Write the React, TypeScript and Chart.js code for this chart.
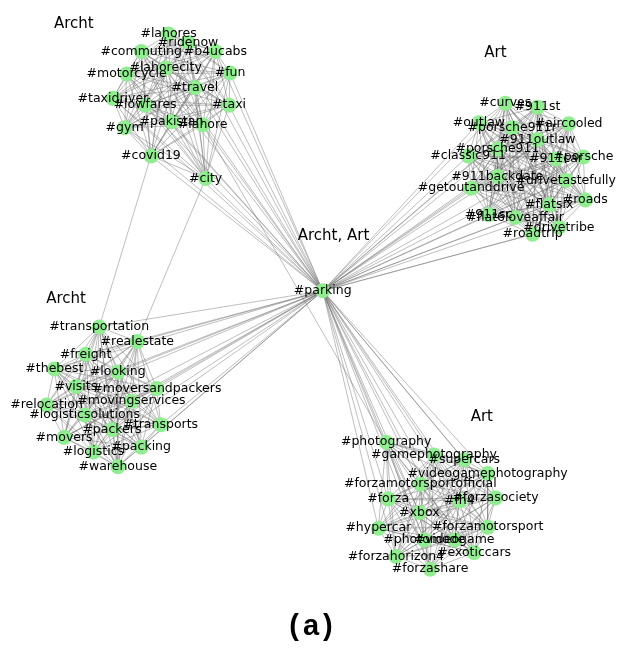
import { useEffect, useRef } from "react";
import { Chart, registerables } from "chart.js";

Chart.register(...registerables);

// Layout units: x grows to the right, y grows downward (0..624 x 0..650).
const archtTopTags = ["#lahores", "#ridenow", "#commuting", "#b4ucabs", "#lahorecity", "#motorcycle", "#fun", "#travel", "#taxidriver", "#lowfares", "#taxi", "#pakistan", "#lahore", "#gym", "#covid19", "#city"];
const archtTopX = [165, 185, 137, 213, 162, 122, 228, 192, 108, 141, 227, 168, 200, 120, 147, 203];
const archtTopY = [27, 36, 45, 45, 62, 68, 67, 82, 93, 100, 100, 117, 120, 123, 152, 175];

const artTopTags = ["#curves", "#911st", "#outlaw", "#porsche911r", "#aircooled", "#911outlaw", "#classic911", "#porsche911", "#911car", "#porsche", "#911backdate", "#drivetastefully", "#getoutanddrive", "#roads", "#flatsix", "#911sc", "#flat6loveaffair", "#drivetribe", "#roadtrip"];
const artTopX = [510, 543, 483, 517, 575, 543, 472, 502, 562, 590, 502, 572, 475, 592, 555, 493, 520, 565, 538];
const artTopY = [98, 102, 118, 123, 119, 135, 152, 145, 155, 153, 173, 177, 185, 197, 202, 212, 215, 225, 232];

const archtBottomTags = ["#transportation", "#realestate", "#freight", "#thebest", "#looking", "#visits", "#moversandpackers", "#movingservices", "#relocation", "#logisticsolutions", "#packers", "#transports", "#movers", "#packing", "#logistics", "#warehouse"];
const archtBottomX = [94, 133, 80, 48, 113, 70, 153, 127, 40, 79, 107, 157, 58, 137, 88, 113];
const archtBottomY = [327, 342, 355, 370, 373, 388, 390, 403, 407, 417, 432, 427, 440, 450, 455, 470];

const artBottomTags = ["#photography", "#gamephotography", "#supercars", "#videogamephotography", "#forzamotorsportofficial", "#forza", "#fh4", "#forzasociety", "#xbox", "#hypercar", "#forzamotorsport", "#photomode", "#videogame", "#forzahorizon4", "#exoticcars", "#forzashare"];
const artBottomX = [388, 437, 468, 492, 423, 390, 463, 500, 422, 380, 492, 427, 458, 398, 478, 433];
const artBottomY = [445, 458, 463, 477, 488, 503, 505, 502, 517, 533, 532, 545, 545, 562, 558, 575];

const hubTag = "#parking";
const hubX = 323;
const hubY = 290;

// Edges that run between communities besides the hub.
const crossEdges: [string, string][] = [
  ["#covid19", "#transportation"],
  ["#city", "#realestate"],
  ["#lahore", "#photography"],
];

const groupTitles = ["Archt", "Art", "Archt, Art", "Archt", "Art"];
const groupTitleX = [68, 500, 334, 60, 486];
const groupTitleY = [17, 47, 234, 299, 419];

const caption = "(a)";

type Group = { tags: string[]; xs: number[]; ys: number[] };
const groups: Group[] = [
  { tags: archtTopTags, xs: archtTopX, ys: archtTopY },
  { tags: artTopTags, xs: artTopX, ys: artTopY },
  { tags: archtBottomTags, xs: archtBottomX, ys: archtBottomY },
  { tags: artBottomTags, xs: artBottomX, ys: artBottomY },
];

export default function App() {
  const canvasRef = useRef<HTMLCanvasElement | null>(null);

  useEffect(() => {
    const canvas = canvasRef.current;
    if (!canvas) return;

    const nodeTags: string[] = [hubTag];
    const nodePts: { x: number; y: number }[] = [{ x: hubX, y: hubY }];
    groups.forEach((g) => {
      g.tags.forEach((t, i) => {
        nodeTags.push(t);
        nodePts.push({ x: g.xs[i], y: g.ys[i] });
      });
    });
    const idx = (t: string) => nodeTags.indexOf(t);

    const edgePairs: [number, number][] = [];
    let offset = 1;
    groups.forEach((g) => {
      const n = g.tags.length;
      for (let i = 0; i < n; i++) {
        edgePairs.push([0, offset + i]);
        for (let j = i + 1; j < n; j++) edgePairs.push([offset + i, offset + j]);
      }
      offset += n;
    });
    crossEdges.forEach(([a, b]) => edgePairs.push([idx(a), idx(b)]));

    const edgeData: { x: number; y: number }[] = [];
    edgePairs.forEach(([a, b]) => {
      edgeData.push(nodePts[a], nodePts[b], { x: NaN, y: NaN });
    });

    const labelPlugin = {
      id: "nodeLabels",
      afterDatasetsDraw(chart: any) {
        const ctx = chart.ctx as CanvasRenderingContext2D;
        const meta = chart.getDatasetMeta(1);
        const xs = chart.scales.x;
        const ys = chart.scales.y;
        ctx.save();
        ctx.textAlign = "center";
        ctx.textBaseline = "middle";
        ctx.fillStyle = "#000000";
        ctx.font = "12.5px 'DejaVu Sans'";
        meta.data.forEach((el: any, i: number) => {
          ctx.fillText(nodeTags[i], el.x, el.y);
        });
        ctx.font = "15px 'DejaVu Sans'";
        groupTitles.forEach((t, i) => {
          ctx.fillText(t, xs.getPixelForValue(groupTitleX[i]), ys.getPixelForValue(groupTitleY[i]));
        });
        ctx.font = "bold 29px 'Liberation Sans', Arial, sans-serif";
        (ctx as any).letterSpacing = "4px";
        ctx.fillText(caption, xs.getPixelForValue(313), ys.getPixelForValue(634));
        ctx.restore();
      },
    };

    const chart = new Chart(canvas, {
      type: "scatter",
      data: {
        datasets: [
          {
            label: "edges",
            data: edgeData,
            showLine: true,
            spanGaps: false,
            borderColor: "rgba(105,105,105,0.55)",
            borderWidth: 0.8,
            pointRadius: 0,
            pointHoverRadius: 0,
            clip: false,
            order: 1,
          } as any,
          {
            label: "hashtags",
            data: nodePts,
            pointRadius: 7.5,
            pointHoverRadius: 7.5,
            pointBackgroundColor: "rgb(144,238,144)",
            pointBorderWidth: 0,
            backgroundColor: "rgb(144,238,144)",
            borderWidth: 0,
            clip: false,
            order: 0,
          } as any,
        ],
      },
      options: {
        animation: false,
        responsive: false,
        devicePixelRatio: 1,
        layout: { padding: 0 },
        events: [],
        plugins: {
          legend: { display: false },
          tooltip: { enabled: false },
        },
        scales: {
          x: { type: "linear", min: 0, max: 624, display: false },
          y: { type: "linear", min: 0, max: 650, reverse: true, display: false },
        },
      },
      plugins: [labelPlugin],
    });

    return () => chart.destroy();
  }, []);

  return (
    <div style={{ position: "fixed", left: 0, top: 0, width: 624, height: 650, background: "#ffffff" }}>
      <canvas ref={canvasRef} width={624} height={650} />
    </div>
  );
}
